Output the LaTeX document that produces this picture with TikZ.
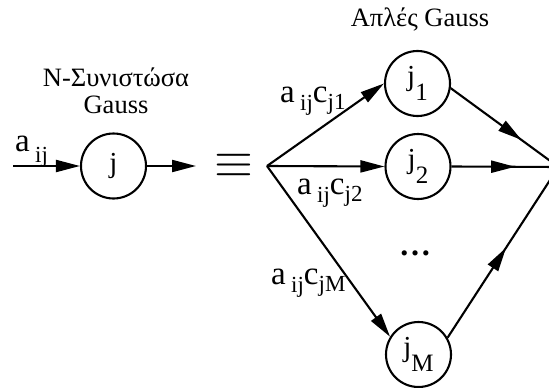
\documentclass[tikz,border=0pt]{standalone}
\usepackage{fontspec}
\setmainfont{Liberation Serif}
\usetikzlibrary{arrows.meta,decorations.markings}
\newcommand\lsub[2]{\raisebox{-#1}{\fontsize{23}{23}\selectfont #2}}
\newcommand\csub[1]{\raisebox{-15pt}{\fontsize{25}{25}\selectfont #1}}
\begin{document}
\begin{tikzpicture}[x=1pt,y=-1pt,line width=2.1pt,
  >={Triangle[length=24pt,width=12pt]},
  circ/.style={circle,draw,minimum size=65pt,inner sep=0pt,font=\fontsize{29}{29}\selectfont},
  lab/.style={anchor=base west,inner sep=0pt,font=\fontsize{33}{33}\selectfont},
  ttl/.style={anchor=base,inner sep=0pt,font=\fontsize{26.5}{26.5}\selectfont},
  midarrow/.style={postaction={decorate},decoration={markings,mark=at position #1 with {\arrow{>}}}}]
\useasboundingbox (0,0) rectangle (549,388);
\clip (0,0) rectangle (549,388);
% titles
\node[ttl] (t1) at (116,86) {N-Συνιστώσα};
\node[ttl] (t2) at (116,113) {Gauss};
\node[ttl] (t3) at (420,26) {Απλές Gauss};
% nodes
\node[circ] (j)  at (113.5,166) {j};
\node[circ] (j1) at (417.5,83.5) {j\csub{1}};
\node[circ] (j2) at (418,166.5) {j\csub{2}};
\node[circ] (jM) at (418.5,354.5) {j\csub{M}};
\node[anchor=base,inner sep=0pt,font=\fontsize{32}{32}\selectfont\bfseries] (dots) at (415,255) {…};
\node[inner sep=0pt] (eq) at (233.5,166) {\scalebox{5}{$\equiv$}};
% coordinates
\coordinate (in) at (13,166);
\coordinate (out) at (196,166);
\coordinate (L) at (267,166);
\coordinate (R) at (558.5,167);
% connectors
\draw[->] (in) -- (j.west);
\draw[->] (j.east) -- (out);
\draw[->] (L) -- (j1.west);
\draw[->] (L) -- (j2.west);
\draw[->] (L) -- (jM.148);
\draw[midarrow=0.656] (j1.-8) -- (R);
\draw[midarrow=0.595] (j2.east) -- (R);
\draw[midarrow=0.527] (jM.30) -- (R);
% labels
\node[lab] (la) at (14,151) {a\,\lsub{11pt}{ij}};
\node[lab] (l1) at (279,102) {a\,\lsub{8pt}{ij}c\lsub{7pt}{j1}};
\node[lab] (l2) at (296,194) {a\,\lsub{8pt}{ij}c\lsub{7pt}{j2}};
\node[lab] (lM) at (270,284) {a\,\lsub{8pt}{ij}c\lsub{7pt}{jM}};
\end{tikzpicture}
\end{document}
